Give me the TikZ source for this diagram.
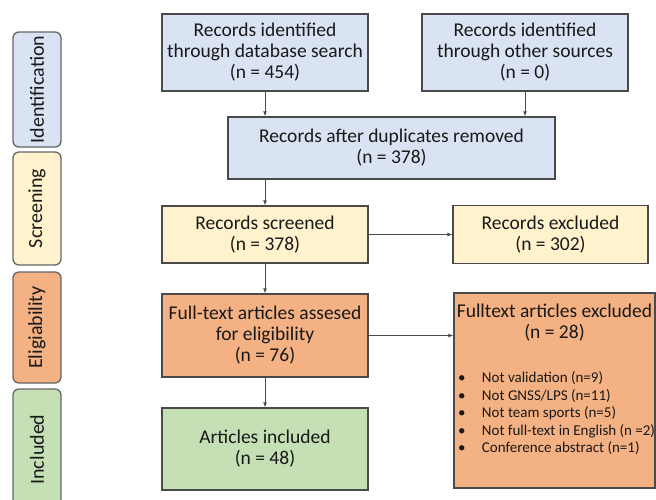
\documentclass[tikz,border=0pt]{standalone}
\usepackage{fontspec}
\setmainfont{Carlito}
\usetikzlibrary{arrows.meta}
\definecolor{idblue}{HTML}{DAE3F3}
\definecolor{scryellow}{HTML}{FFF2CC}
\definecolor{eligorange}{HTML}{F4B183}
\definecolor{incgreen}{HTML}{C5E0B4}
\definecolor{edgegray}{HTML}{4A4A4A}
\tikzset{
  box/.style={draw=edgegray, line width=1.3pt, align=center, inner sep=1pt,
    font=\fontsize{19.5}{21}\selectfont, text=black!90},
  phase/.style={draw=edgegray!85, line width=1.3pt, rounded corners=6pt, rotate=90,
    minimum height=48pt, font=\fontsize{20}{22}\selectfont, text=black!90},
  flow/.style={-{Latex[length=5pt,width=4pt]}, line width=0.9pt, draw=edgegray}
}
\begin{document}
\begin{tikzpicture}[x=1pt,y=-1pt]
  \useasboundingbox (0,0) rectangle (656,499);
  \clip (0,0) rectangle (656,499);
  % phases
  \node[phase, fill=idblue, minimum width=115pt] (ident) at (37,89.5) {Identification};
  \node[phase, fill=scryellow, minimum width=113pt] (screen) at (37,208.5) {Screening};
  \node[phase, fill=eligorange, minimum width=111pt] (elig) at (37,327.5) {Eligiability};
  \node[phase, fill=incgreen, minimum width=121pt] (incl) at (37,449.5) {Included};
  % boxes
  \node[box, fill=idblue, minimum width=206pt, minimum height=77pt] (dbsearch) at (265,52.5)
    {Records identified\\through database search\\(n = 454)};
  \node[box, fill=idblue, minimum width=206pt, minimum height=77pt] (othersrc) at (525,52.5)
    {Records identified\\through other sources\\(n = 0)};
  \node[box, fill=idblue, minimum width=327pt, minimum height=62pt] (dupl) at (391.5,148)
    {Records after duplicates removed\\(n = 378)};
  \node[box, fill=scryellow, minimum width=206pt, minimum height=57pt] (screened) at (265,234.5)
    {Records screened\\(n = 378)};
  \node[box, fill=scryellow, minimum width=195pt, minimum height=58pt] (excluded) at (550.5,234.5)
    {Records excluded\\(n = 302)};
  \node[box, fill=eligorange, minimum width=206pt, minimum height=83pt] (fulltext) at (265,335.5)
    {Full-text articles assesed\\for eligibility\\(n = 76)};
  \node[box, fill=eligorange, inner sep=0pt, align=left] (ftexcl) at (554.5,390.5)
    {\begin{minipage}[t][195pt][t]{201pt}
      \vspace*{11pt}
      {\centering Fulltext articles excluded\\(n = 28)\par}
      \vspace{27pt}
      \fontsize{15}{17.4}\selectfont
      \hspace*{4pt}\makebox[24pt][l]{\textbullet}Not validation (n=9)\\
      \hspace*{4pt}\makebox[24pt][l]{\textbullet}Not GNSS/LPS (n=11)\\
      \hspace*{4pt}\makebox[24pt][l]{\textbullet}Not team sports (n=5)\\
      \hspace*{4pt}\makebox[24pt][l]{\textbullet}Not full-text in English (n =2)\\
      \hspace*{4pt}\makebox[24pt][l]{\textbullet}Conference abstract (n=1)
    \end{minipage}};
  \node[box, fill=incgreen, minimum width=206pt, minimum height=82pt] (included) at (265,449)
    {Articles included\\(n = 48)};
  \begin{scope}[flow]
    \draw (dbsearch.south) -- (dbsearch.south |- dupl.north);
    \draw (othersrc.south) -- (othersrc.south |- dupl.north);
    \draw (dupl.south -| screened.north) -- (screened.north);
    \draw (screened.east) -- (screened.east -| excluded.west);
    \draw (screened.south) -- (fulltext.north);
    \draw (fulltext.east) -- (fulltext.east -| ftexcl.west);
    \draw (fulltext.south) -- (included.north);
  \end{scope}
\end{tikzpicture}
\end{document}
